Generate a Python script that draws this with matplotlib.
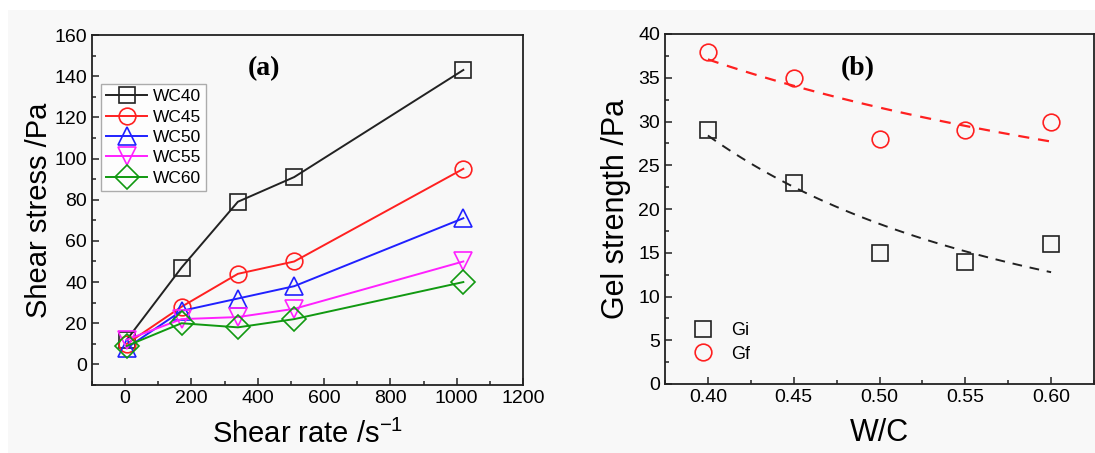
import numpy as np
import matplotlib
matplotlib.use('Agg')
import matplotlib.pyplot as plt
from matplotlib.patches import Rectangle
from matplotlib.ticker import MultipleLocator

plt.rcParams['font.family'] = ['Liberation Sans', 'DejaVu Sans']

# (a) shear stress vs shear rate
shear_rate = [5.1, 170, 340, 510, 1020]
series_names = ['WC40', 'WC45', 'WC50', 'WC55', 'WC60']
wc40 = [12, 47, 79, 91, 143]
wc45 = [10, 28, 44, 50, 95]
wc50 = [8, 26, 32, 38, 71]
wc55 = [12, 22, 23, 27, 50]
wc60 = [9, 20, 18, 22, 40]

# (b) gel strength vs W/C
wc_ratio = [0.40, 0.45, 0.50, 0.55, 0.60]
gi = [29, 23, 15, 14, 16]
gf = [38, 35, 28, 29, 30]
# power-law fits y = a * (x/0.4)^b
gi_fit = (28.4, -1.97)
gf_fit = (37.1, -0.72)

bg = '#f8f8f8'
fig = plt.figure(figsize=(10.95, 4.53), dpi=100, facecolor=bg)
fig.patches.append(Rectangle((0, 1 - 10 / 453), 1, 10 / 453, transform=fig.transFigure,
                             facecolor='white', edgecolor='none', zorder=0))
fig.patches.append(Rectangle((0, 0), 8 / 1095, 1, transform=fig.transFigure,
                             facecolor='white', edgecolor='none', zorder=0))

ax1 = fig.add_axes([92 / 1095, 68 / 453, 431 / 1095, 350 / 453], facecolor=bg)
ax2 = fig.add_axes([665 / 1095, 69 / 453, 429 / 1095, 350 / 453], facecolor=bg)


def style_axes(ax):
    for s in ax.spines.values():
        s.set_linewidth(1.3)
        s.set_color('#222222')
    ax.tick_params(which='both', direction='in', labelsize=14, width=1.1, color='#222222')
    ax.tick_params(which='major', length=5)
    ax.tick_params(which='minor', length=3)


colors = ['#222222', '#ff2020', '#2020ff', '#ff20ff', '#119911']
markers = ['s', 'o', '^', 'v', 'D']
sizes = [11, 12, 13, 13, 12]
for name, ys, c, m, ms in zip(series_names, [wc40, wc45, wc50, wc55, wc60], colors, markers, sizes):
    ax1.plot(shear_rate, ys, color=c, lw=1.4, marker=m, ms=ms, mfc='none', mec=c, mew=1.2, label=name)

ax1.set_xlim(-100, 1200)
ax1.set_ylim(-10, 160)
ax1.xaxis.set_major_locator(MultipleLocator(200))
ax1.xaxis.set_minor_locator(MultipleLocator(100))
ax1.yaxis.set_major_locator(MultipleLocator(20))
ax1.yaxis.set_minor_locator(MultipleLocator(10))
style_axes(ax1)
ax1.set_xlabel('Shear rate /s$^{\\mathregular{-1}}$', fontsize=21, labelpad=9)
ax1.set_ylabel('Shear stress /Pa', fontsize=21, labelpad=1)
ax1.text(0.40, 0.905, '(a)', transform=ax1.transAxes, fontsize=20, fontweight='bold',
         family='Liberation Serif', ha='center', va='center')
leg = ax1.legend(loc='upper left', bbox_to_anchor=(0.02, 0.86), fontsize=12.5, frameon=True,
                 fancybox=False, edgecolor='#999999', handlelength=2.4, handletextpad=0.3,
                 labelspacing=0.3, borderpad=0.3, borderaxespad=0)
leg.get_frame().set_facecolor('white')
leg.get_frame().set_linewidth(1.0)

xs = np.linspace(wc_ratio[0], wc_ratio[-1], 100)
ax2.plot(xs, gi_fit[0] * (xs / 0.4) ** gi_fit[1], ls=(0, (5, 4)), color='#222222', lw=1.4)
ax2.plot(xs, gf_fit[0] * (xs / 0.4) ** gf_fit[1], ls=(0, (5, 4)), color='#ff2020', lw=1.6)
ax2.plot(wc_ratio, gi, ls='none', marker='s', ms=11, mfc='none', mec='#222222', mew=1.2, label='Gi')
ax2.plot(wc_ratio, gf, ls='none', marker='o', ms=12, mfc='none', mec='#ff2020', mew=1.2, label='Gf')
ax2.set_xlim(0.375, 0.625)
ax2.set_ylim(0, 40)
ax2.xaxis.set_major_locator(MultipleLocator(0.05))
ax2.xaxis.set_minor_locator(MultipleLocator(0.025))
ax2.yaxis.set_major_locator(MultipleLocator(5))
ax2.yaxis.set_minor_locator(MultipleLocator(2.5))
ax2.xaxis.set_major_formatter(matplotlib.ticker.FormatStrFormatter('%.2f'))
style_axes(ax2)
ax2.set_xlabel('W/C', fontsize=22, labelpad=9)
ax2.set_ylabel('Gel strength /Pa', fontsize=22, labelpad=5)
ax2.text(0.45, 0.9, '(b)', transform=ax2.transAxes, fontsize=20, fontweight='bold',
         family='Liberation Serif', ha='center', va='center')
ax2.legend(loc='lower left', bbox_to_anchor=(0.04, 0.04), fontsize=13, frameon=False,
           handlelength=1.5, handletextpad=0.8, labelspacing=0.35, borderaxespad=0)

fig.savefig('out.png', dpi=100, facecolor=bg)
